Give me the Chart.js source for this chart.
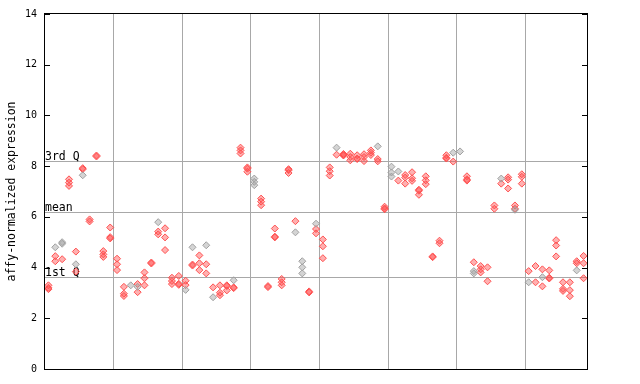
<!DOCTYPE html>
<html>
<head>
<meta charset="utf-8">
<script src="https://cdn.jsdelivr.net/npm/chart.js@4"></script>
<style>
  html, body { margin: 0; padding: 0; background: #fff; }
  #wrap { width: 640px; height: 384px; }
</style>
</head>
<body>
<div id="wrap"><canvas id="myChart" width="640" height="384"></canvas></div>
<script>
// Samples along x, one slot per sample, grouped in blocks of 10
const slotCount = 79;
const groupLines = [10, 20, 30, 40, 50, 60, 70];

// Values per sample slot (red and grey markers)
const redValues = [
  [3.15, 3.2, 3.3], [4.45, 4.25], [4.33], [7.48, 7.35, 7.22], [4.63, 3.84],
  [7.92, 7.88], [5.9, 5.82], [8.42, 8.38], [4.65, 4.52, 4.42], [5.58, 5.2, 5.15],
  [4.35, 4.13, 3.9], [3.24, 2.97, 2.88], [], [3.35, 3.03], [3.81, 3.58, 3.3],
  [4.2, 4.16], [5.42, 5.31], [5.55, 5.19, 4.69], [3.6, 3.47, 3.35], [3.67, 3.36, 3.32],
  [3.48, 3.31], [4.12, 4.08], [4.48, 4.17, 3.9], [4.13, 3.77], [3.22],
  [3.3, 3.01, 2.91], [3.3, 3.27, 3.1], [3.22, 3.19], [8.73, 8.62, 8.5], [7.95, 7.9, 7.78],
  [], [6.72, 6.6, 6.46], [3.27, 3.23], [5.54, 5.22, 5.19], [3.55, 3.42, 3.3],
  [7.88, 7.84, 7.73], [5.83], [], [3.06, 3.02], [5.52, 5.35],
  [5.11, 4.84, 4.37], [7.95, 7.8, 7.63], [8.45], [8.48, 8.44, 8.42], [8.49, 8.36, 8.23],
  [8.43, 8.3, 8.28], [8.47, 8.36, 8.2], [8.62, 8.53, 8.44], [8.28, 8.19], [6.4, 6.33, 6.3],
  [], [7.43], [7.65, 7.55, 7.31], [7.76, 7.52, 7.42], [7.07, 7.03, 6.87],
  [7.6, 7.44, 7.29], [4.44, 4.41], [5.06, 4.96], [8.43, 8.33, 8.3], [8.18],
  [], [7.6, 7.48, 7.43], [4.21], [4.06, 3.93, 3.81], [4.01, 3.46],
  [6.45, 6.32], [7.31], [7.56, 7.47, 7.12], [6.45, 6.32], [7.68, 7.58, 7.31],
  [3.86], [4.06, 3.42], [3.93, 3.26], [3.89, 3.6, 3.57], [5.08, 4.87, 4.44],
  [3.42, 3.16, 3.08], [3.42, 3.11, 2.87], [4.25, 4.17], [4.46, 4.17, 3.58]
];
const greyValues = [
  [], [4.8], [5.0, 4.94], [], [4.13],
  [7.64], [], [], [], [],
  [], [], [3.3], [3.24], [],
  [], [5.79], [], [], [],
  [3.12], [4.8], [], [4.88], [2.83],
  [], [], [3.5], [], [],
  [7.51, 7.38, 7.25], [], [], [], [],
  [], [5.39], [4.25, 4.01, 3.77], [], [5.73],
  [], [], [8.73], [], [],
  [], [], [], [8.78], [],
  [7.98, 7.75, 7.59], [7.79], [], [], [],
  [], [], [], [], [8.53],
  [8.58], [], [3.86, 3.77], [], [],
  [], [7.51], [], [6.28], [],
  [3.42], [], [3.62], [], [],
  [], [], [3.89], []
];

// Summary lines
const firstQ = 3.63;
const meanValue = 6.21;
const thirdQ = 8.22;
const yTicks = [0, 2, 4, 6, 8, 10, 12, 14];

function toPoints(values) {
  const pts = [];
  values.forEach((list, i) => {
    list.forEach(v => pts.push({ x: i + 0.5, y: v }));
  });
  return pts;
}

const monoFont = '"DejaVu Sans Mono", "Liberation Mono", monospace';

// Frame, inward ticks and quartile lines
const framePlugin = {
  id: 'frame',
  beforeDatasetsDraw(chart) {
    const { ctx, chartArea: a, scales: { y } } = chart;
    ctx.save();
    ctx.strokeStyle = '#a8a8a8';
    ctx.lineWidth = 1;
    [thirdQ, meanValue, firstQ].forEach(v => {
      const py = Math.round(y.getPixelForValue(v)) + 0.5;
      ctx.beginPath();
      ctx.moveTo(a.left, py);
      ctx.lineTo(a.right, py);
      ctx.stroke();
    });
    ctx.fillStyle = '#000';
    ctx.font = '11.5px ' + monoFont;
    ctx.textBaseline = 'alphabetic';
    ctx.textAlign = 'left';
    [['3rd Q', thirdQ], ['mean', meanValue], ['1st Q', firstQ]].forEach(([t, v]) => {
      ctx.fillText(t, a.left, Math.round(y.getPixelForValue(v)) - 1);
    });
    ctx.restore();
  },
  afterDraw(chart) {
    const { ctx, chartArea: a, scales: { y } } = chart;
    ctx.save();
    ctx.strokeStyle = '#000';
    ctx.lineWidth = 1;
    ctx.strokeRect(a.left - 0.5, a.top - 0.5, a.right - a.left + 1, a.bottom - a.top + 1);
    yTicks.forEach(v => {
      const py = Math.round(y.getPixelForValue(v)) + 0.5;
      ctx.beginPath();
      ctx.moveTo(a.left, py);
      ctx.lineTo(a.left + 5, py);
      ctx.moveTo(a.right - 5, py);
      ctx.lineTo(a.right, py);
      ctx.stroke();
    });
    ctx.restore();
  }
};

const ctx = document.getElementById('myChart');

new Chart(ctx, {
  type: 'scatter',
  data: {
    datasets: [
      {
        label: 'grey',
        data: toPoints(greyValues),
        pointStyle: 'rectRot',
        radius: 3.5,
        backgroundColor: 'rgba(160,160,160,0.45)',
        borderColor: '#a0a0a0',
        borderWidth: 1
      },
      {
        label: 'red',
        data: toPoints(redValues),
        pointStyle: 'rectRot',
        radius: 3.5,
        backgroundColor: 'rgba(255,80,80,0.45)',
        borderColor: '#ff5050',
        borderWidth: 1
      }
    ]
  },
  options: {
    responsive: false,
    animation: false,
    layout: { padding: { top: 14, right: 53, left: 0, bottom: 0 } },
    plugins: {
      legend: { display: false },
      tooltip: { enabled: false }
    },
    scales: {
      x: {
        type: 'linear',
        min: 0,
        max: slotCount,
        afterFit: s => { s.height = 15; },
        afterBuildTicks: s => { s.ticks = groupLines.map(v => ({ value: v })); },
        ticks: { display: false },
        border: { display: false },
        grid: { color: '#a8a8a8', lineWidth: 1, drawTicks: false }
      },
      y: {
        min: 0,
        max: 14,
        afterFit: s => { s.width = 45; },
        afterBuildTicks: s => { s.ticks = yTicks.map(v => ({ value: v })); },
        ticks: {
          color: '#000',
          padding: 8,
          font: { family: monoFont, size: 10 }
        },
        border: { display: false },
        grid: { display: false, drawTicks: false },
        title: {
          display: true,
          text: 'affy-normalized expression',
          color: '#000',
          padding: { top: 5, bottom: 0 },
          font: { family: monoFont, size: 11.5 }
        }
      }
    }
  },
  plugins: [framePlugin]
});
</script>
</body>
</html>
